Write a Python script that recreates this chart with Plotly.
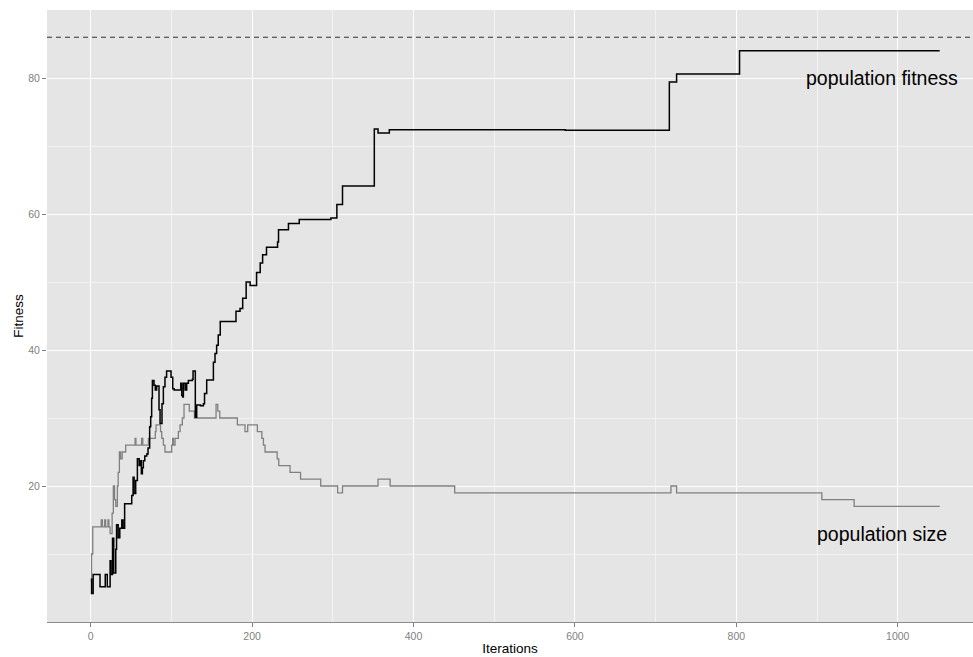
import plotly.graph_objects as go

# ---- data ----
fit_iter = [0, 1, 3, 11.5, 18, 20.5, 24, 25, 27, 28.5, 31, 32, 34, 36, 38.5, 40, 42,
            50.8, 52.5, 53.7, 55.7, 57.8, 60, 61.5, 62.7, 64, 65.2, 67, 69.4, 71, 73,
            74.3, 75.5, 76.4, 78.4, 80, 81.7, 84.6, 85.9, 88.3, 90, 92, 94, 99.5, 101.6,
            103.3, 111.6, 112.8, 114, 114.8, 117, 118.9, 121, 126, 126.8, 129.6, 131.3,
            136, 139.6, 141, 143.7, 152, 154, 156, 158, 160.5, 180, 185, 188.3, 192.6,
            197.5, 205.5, 210, 213, 217.8, 231.5, 232.7, 245, 258.4, 297.6, 305, 312,
            351.4, 356, 370, 588, 717, 726, 804, 1052]
fit_val = [6.3, 4.2, 7.0, 5.2, 7.0, 5.2, 9.0, 7.0, 12.3, 7.2, 10.7, 14.3, 12.4, 13.8, 15.0, 13.8, 17.4,
           18.6, 21.3, 18.9, 20.8, 24.0, 23.0, 23.7, 21.8, 22.7, 23.7, 24.4, 24.7, 25.6, 28.7,
           30.2, 32.9, 35.5, 34.8, 34.1, 34.7, 31.2, 29.2, 32.1, 34.6, 36.0, 36.9, 36.0, 34.3,
           34.1, 35.1, 33.3, 33.1, 35.1, 34.1, 35.1, 35.5, 35.7, 36.9, 30.1, 31.9,
           31.8, 32.1, 33.6, 35.6, 38.2, 39.5, 40.7, 42.2, 44.2, 45.7, 46.1, 47.6, 50.0,
           49.5, 51.4, 52.8, 54.0, 55.1, 55.9, 57.7, 58.6, 59.2, 59.4, 61.4, 64.1,
           72.5, 71.9, 72.4, 72.3, 79.4, 80.6, 84.0, 84.0]

size_iter = [0, 1, 2.5, 13, 14.5, 17.3, 18.5, 21.4, 22.5, 24, 26.5, 28, 29.5, 31, 33, 34,
             35.5, 37, 39, 43.3, 55, 56, 63, 64.5, 71.5, 80, 81, 86.5, 88, 90, 92, 100.3,
             101.5, 102.5, 104.5, 108.6, 110.7, 113.5, 115.6, 122.1, 128.5, 155.3, 157.4,
             159.9, 181.7, 191.2, 194.5, 206.5, 212, 214, 216, 231, 233, 247, 260, 285,
             306, 312, 356, 371, 451, 719, 726, 906, 946, 1052]
size_val = [6, 10, 14, 15, 14, 15, 14, 15, 14, 13, 16, 20, 18, 17, 20, 22,
            25, 24, 25, 26, 27, 26, 27, 26, 27, 28, 29, 28, 27, 26, 25, 26,
            27, 26, 27, 28, 29, 30, 32, 31, 30, 32, 31,
            30, 29, 28, 29, 28, 27, 26, 25, 24, 23, 22, 21, 20,
            19, 20, 21, 20, 19, 20, 19, 18, 17, 17]

max_fitness = 86.0
label_x = 981
label_fitness_y = 80
label_size_y = 13

x_major = [0, 200, 400, 600, 800, 1000]
x_minor = [100, 300, 500, 700, 900]
y_major = [20, 40, 60, 80]
y_minor = [10, 30, 50, 70]

FONT = "Liberation Sans, Arial, Helvetica, sans-serif"

fig = go.Figure()
fig.add_trace(go.Scatter(x=size_iter, y=size_val, mode="lines", line_shape="hv",
                         line=dict(color="#808080", width=1.3), showlegend=False))
fig.add_trace(go.Scatter(x=fit_iter, y=fit_val, mode="lines", line_shape="hv",
                         line=dict(color="#000000", width=1.5), showlegend=False))

fig.add_hline(y=max_fitness, line=dict(color="#333333", width=1.1, dash="5px,4px"))

fig.add_annotation(x=label_x, y=label_fitness_y, text="population fitness", showarrow=False,
                   font=dict(family=FONT, size=19.5, color="#000000"))
fig.add_annotation(x=label_x, y=label_size_y, text="population size", showarrow=False,
                   font=dict(family=FONT, size=19.5, color="#000000"))

axis_common = dict(
    showgrid=True, gridcolor="#FFFFFF", gridwidth=1.3, zeroline=False,
    ticks="outside", ticklen=4, tickwidth=1, tickcolor="#7F7F7F",
    tickfont=dict(family=FONT, size=10.5, color="#7F7F7F"),
)

fig.update_layout(
    width=973, height=657,
    margin=dict(l=47, r=0, t=10, b=35),
    template="none",
    plot_bgcolor="#E5E5E5", paper_bgcolor="#FFFFFF",
    font=dict(family=FONT),
    xaxis=dict(range=[-54.2, 1093.3], tickmode="array", tickvals=x_major,
               ticktext=[str(v) for v in x_major],
               minor=dict(tickmode="array", tickvals=x_minor, showgrid=True,
                          gridcolor="#F2F2F2", gridwidth=0.7, ticks=""),
               showline=True, linecolor="#8C8C8C", linewidth=1,
               title=dict(text="Iterations", standoff=2,
                          font=dict(family=FONT, size=13.5, color="#000000")),
               automargin=False, **axis_common),
    yaxis=dict(range=[0, 90], tickmode="array", tickvals=y_major,
               ticktext=[str(v) for v in y_major],
               minor=dict(tickmode="array", tickvals=y_minor, showgrid=True,
                          gridcolor="#F2F2F2", gridwidth=0.7, ticks=""),
               showline=False,
               title=dict(text="Fitness", standoff=1,
                          font=dict(family=FONT, size=13.5, color="#000000")),
               automargin=False, **axis_common),
)

fig.write_html("out.html")
